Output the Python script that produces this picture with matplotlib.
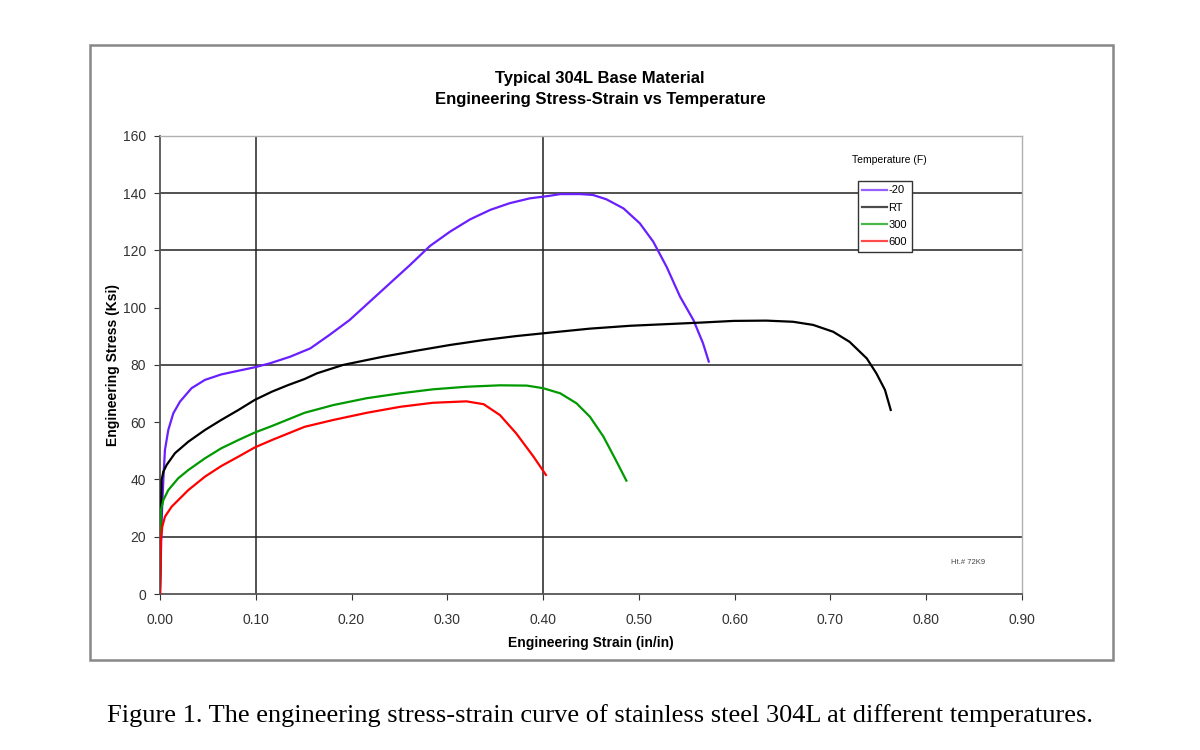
import matplotlib
matplotlib.use('Agg')
import matplotlib.pyplot as plt
from matplotlib.patches import Rectangle

# -20 F
strain_m20 = [0.0, 0.002, 0.0035, 0.0052, 0.0087, 0.0139, 0.0209, 0.033, 0.047, 0.064,
              0.082, 0.099, 0.115, 0.136, 0.157, 0.177, 0.198, 0.219, 0.240, 0.261,
              0.282, 0.303, 0.324, 0.345, 0.365, 0.386, 0.407, 0.418, 0.439, 0.452,
              0.466, 0.484, 0.501, 0.515, 0.529, 0.543, 0.557, 0.567, 0.573]
stress_m20 = [0.0, 28.0, 39.8, 50.3, 57.3, 63.1, 67.2, 71.9, 74.8, 76.7,
              78.0, 79.2, 80.6, 82.9, 85.8, 90.5, 95.7, 102.1, 108.5, 114.9,
              121.6, 126.6, 130.9, 134.2, 136.5, 138.2, 139.1, 139.7, 139.7, 139.4,
              137.9, 134.7, 129.5, 123.1, 114.3, 103.9, 95.7, 87.6, 81.2]
# RT
strain_rt = [0.0, 0.001, 0.0017, 0.0035, 0.007, 0.0157, 0.0296, 0.047, 0.064, 0.082,
             0.099, 0.117, 0.134, 0.151, 0.164, 0.191, 0.233, 0.268, 0.303, 0.338,
             0.372, 0.407, 0.449, 0.491, 0.564, 0.599, 0.633, 0.661, 0.682, 0.703,
             0.720, 0.738, 0.748, 0.757, 0.763]
stress_rt = [0.0, 25.0, 39.8, 42.7, 45.1, 49.2, 53.2, 57.3, 60.8, 64.3,
             67.8, 70.7, 73.0, 75.1, 77.1, 80.0, 82.9, 85.0, 87.0, 88.7,
             90.1, 91.3, 92.7, 93.7, 94.8, 95.4, 95.5, 95.1, 94.0, 91.6,
             88.1, 82.3, 77.1, 71.3, 64.3]
# 300 F
strain_300 = [0.0, 0.001, 0.0035, 0.0087, 0.019, 0.0296, 0.047, 0.064, 0.082, 0.099,
              0.117, 0.134, 0.151, 0.181, 0.216, 0.251, 0.285, 0.320, 0.355, 0.383,
              0.400, 0.418, 0.435, 0.449, 0.463, 0.475, 0.487]
stress_300 = [0.0, 29.3, 32.8, 36.3, 40.4, 43.3, 47.4, 50.9, 53.8, 56.4,
              58.7, 61.0, 63.3, 66.0, 68.4, 70.1, 71.5, 72.4, 72.9, 72.8,
              71.9, 70.1, 66.6, 61.9, 55.0, 47.4, 39.6]
# 600 F
strain_600 = [0.0, 0.0005, 0.001, 0.0024, 0.0052, 0.0122, 0.0296, 0.047, 0.064, 0.082,
              0.099, 0.117, 0.134, 0.151, 0.181, 0.216, 0.251, 0.285, 0.320, 0.338,
              0.355, 0.372, 0.390, 0.403]
stress_600 = [0.0, 10.0, 18.9, 23.5, 27.0, 30.5, 36.3, 41.0, 44.7, 48.0,
              51.2, 53.8, 56.1, 58.4, 60.8, 63.3, 65.4, 66.8, 67.3, 66.3,
              62.5, 56.1, 48.0, 41.6]

labels = ['-20', 'RT', '300', '600']
colors = ['#6a1fff', '#000000', '#009a00', '#ff0000']

xticks = [0.0, 0.1, 0.2, 0.3, 0.4, 0.5, 0.6, 0.7, 0.8, 0.9]
yticks = [0, 20, 40, 60, 80, 100, 120, 140, 160]
grid_x = [0.1, 0.4]
grid_y = [20, 80, 120, 140]

plt.rcParams['font.family'] = ['Liberation Sans', 'DejaVu Sans']

fig = plt.figure(figsize=(12, 7.5), dpi=100)
ax = fig.add_axes([0.1333, 0.208, 0.7183, 0.6107])

for gx in grid_x:
    ax.axvline(gx, color='#222222', lw=1.1, zorder=1)
for gy in grid_y:
    ax.axhline(gy, color='#222222', lw=1.1, zorder=1)

series = [(strain_m20, stress_m20), (strain_rt, stress_rt),
          (strain_300, stress_300), (strain_600, stress_600)]
for (x, y), lab, c in zip(series, labels, colors):
    ax.plot(x, y, color=c, lw=1.6, label=lab, zorder=3)

ax.set_xlim(0, 0.9)
ax.set_ylim(0, 160)
ax.set_xticks(xticks)
ax.set_yticks(yticks)
ax.set_xticklabels(['%.2f' % t for t in xticks])
ax.tick_params(direction='out', length=4, labelsize=10, colors='#333333', pad=6)
ax.tick_params(axis='x', pad=10)
for s in ['left', 'bottom']:
    ax.spines[s].set_color('#555555')
    ax.spines[s].set_linewidth(1.3)
for s in ['top', 'right']:
    ax.spines[s].set_color('#b0b0b0')
    ax.spines[s].set_linewidth(1.0)

ax.set_xlabel('Engineering Strain (in/in)', fontsize=10, fontweight='bold', labelpad=6)
ax.set_ylabel('Engineering Stress (Ksi)', fontsize=10, fontweight='bold')
ax.yaxis.set_label_coords(-0.046, 0.5)

fig.text(0.5, 1 - 89 / 750, 'Typical 304L Base Material\nEngineering Stress-Strain vs Temperature',
         ha='center', va='center', fontsize=12, fontweight='bold', linespacing=1.45)

fig.text(889 / 1200, 1 - 160 / 750, 'Temperature (F)', ha='center', va='center', fontsize=7.5)
leg = ax.legend(loc='upper left', bbox_to_anchor=(858 / 1200, 1 - 181 / 750),
                bbox_transform=fig.transFigure, fontsize=8, handlelength=2.2,
                handletextpad=0.15, borderpad=0.4, labelspacing=0.65, fancybox=False,
                framealpha=1, borderaxespad=0)
leg.get_frame().set_edgecolor('#333333')
leg.get_frame().set_linewidth(1.0)
for h in leg.get_lines():
    h.set_alpha(0.7)

ax.text(968 / 1200, 1 - 563 / 750, 'Ht.# 72K9', transform=fig.transFigure,
        ha='center', va='center', fontsize=5.5, color='#444444')

fig.patches.append(Rectangle((90 / 1200, 1 - 660 / 750), (1113 - 90) / 1200, (660 - 45) / 750,
                             transform=fig.transFigure, fill=False, edgecolor='#888888',
                             lw=1.8))

fig.text(0.5, 1 - 716 / 750,
         'Figure 1. The engineering stress-strain curve of stainless steel 304L at different temperatures.',
         ha='center', va='center', fontsize=19, family=['Liberation Serif', 'DejaVu Serif'])

plt.savefig('out.png', dpi=100)
